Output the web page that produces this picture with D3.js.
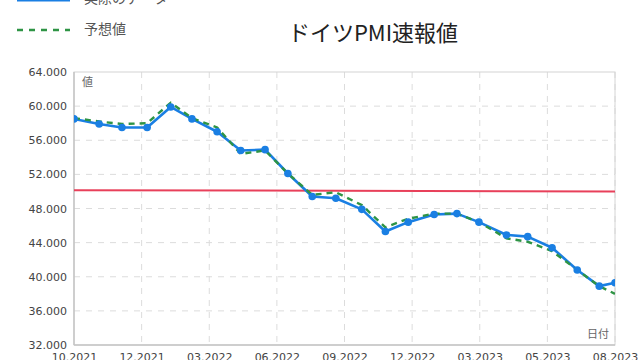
<!DOCTYPE html>
<html><head><meta charset="utf-8">
<script src="https://cdn.jsdelivr.net/npm/d3@7"></script>
<style>html,body{margin:0;padding:0;background:#fff;overflow:hidden}</style>
</head><body><svg id="c" width="640" height="360"></svg>
<script>
const dates = ["2021-10-01","2021-11-02","2021-12-01","2022-01-02","2022-02-01","2022-02-28","2022-04-01","2022-05-01","2022-06-01","2022-06-30","2022-07-31","2022-08-30","2022-10-02","2022-11-01","2022-11-30","2023-01-02","2023-01-31","2023-02-28","2023-04-04","2023-05-01","2023-06-01","2023-07-03","2023-07-31","2023-08-20"];
const actual = [58.5,57.9,57.5,57.5,59.9,58.5,57.0,54.8,54.9,52.1,49.4,49.2,47.9,45.3,46.4,47.3,47.4,46.4,44.9,44.7,43.4,40.8,38.9,39.3];
const forecast = [58.6,58.2,57.9,58.0,60.4,58.6,57.5,54.4,54.8,52.1,49.6,49.9,48.4,45.8,46.8,47.4,47.4,46.4,44.5,44.1,43.0,40.8,38.9,38.0];
const refLine = [50.15, 50.0];
const yTicks = [32,36,40,44,48,52,56,60,64];
const xTickDates = ["2021-10-01","2021-12-26","2022-03-22","2022-06-16","2022-09-10","2022-12-05","2023-03-01","2023-05-26","2023-08-20"];
const xTickLabels = ["10.2021","12.2021","03.2022","06.2022","09.2022","12.2022","03.2023","05.2023","08.2023"];
const legendLabels = ["実際のデータ","予想値"];
const title = "ドイツPMI速報値";

const parse = d3.timeParse("%Y-%m-%d");
const svg = d3.select("#c");
const L=74, R=615, T=72, B=345;
const x = d3.scaleTime().domain([parse(dates[0]), parse(dates[dates.length-1])]).range([L,R]);
const y = d3.scaleLinear().domain([32,64]).range([B,T]);
const numFont = "'DejaVu Sans', Verdana, sans-serif";
const jpFont = "'Noto Sans CJK JP', sans-serif";

// grid
const g = svg.append("g");
g.selectAll(".hg").data(yTicks.filter(v=>v>32 && v<64)).join("line")
  .attr("x1",L).attr("x2",R).attr("y1",d=>y(d)).attr("y2",d=>y(d))
  .attr("stroke","#dcdcdc").attr("stroke-width",1).attr("stroke-dasharray","6,6");
g.selectAll(".vg").data(xTickDates.slice(1)).join("line")
  .attr("x1",d=>x(parse(d))).attr("x2",d=>x(parse(d))).attr("y1",T).attr("y2",B)
  .attr("stroke","#dcdcdc").attr("stroke-width",1).attr("stroke-dasharray","6,6");

// frame
svg.append("rect").attr("x",L).attr("y",T).attr("width",R-L).attr("height",B-T)
  .attr("fill","none").attr("stroke","#d4d4d4").attr("stroke-width",1);
svg.append("line").attr("x1",L).attr("x2",L).attr("y1",T).attr("y2",B).attr("stroke","#c4c4c4").attr("stroke-width",1.5);
svg.append("line").attr("x1",L).attr("x2",R).attr("y1",B).attr("y2",B).attr("stroke","#c4c4c4").attr("stroke-width",1.5);

// y axis
const yAxis = d3.axisLeft(y).tickValues(yTicks).tickFormat(d3.format(".3f")).tickSize(0).tickPadding(7);
const ya = svg.append("g").attr("transform",`translate(${L},0)`).call(yAxis);
ya.select(".domain").remove();
ya.selectAll("text").attr("font-family",numFont).attr("font-size",11).attr("fill","#444");

// x axis
const xAxis = d3.axisBottom(x).tickValues(xTickDates.map(parse)).tickFormat((d,i)=>xTickLabels[i]).tickSize(0).tickPadding(8);
const xa = svg.append("g").attr("transform",`translate(0,${B})`).call(xAxis);
xa.select(".domain").remove();
xa.selectAll("text").attr("font-family",numFont).attr("font-size",11).attr("fill","#444");

// axis titles
svg.append("text").attr("x",82).attr("y",86).text("値").attr("font-family",jpFont).attr("font-size",11).attr("fill","#666");
svg.append("text").attr("x",609).attr("y",338).attr("text-anchor","end").text("日付").attr("font-family",jpFont).attr("font-size",11).attr("fill","#666");

// clip
svg.append("clipPath").attr("id","clip").append("rect").attr("x",L).attr("y",T).attr("width",R-L).attr("height",B-T);
const plot = svg.append("g").attr("clip-path","url(#clip)");

// reference line
plot.append("line").attr("x1",x(parse(dates[0]))).attr("x2",x(parse(dates[dates.length-1])))
  .attr("y1",y(refLine[0])).attr("y2",y(refLine[1])).attr("stroke","#e8405a").attr("stroke-width",2);

const line = d3.line().x((d,i)=>x(parse(dates[i]))).y(d=>y(d));
plot.append("path").datum(actual).attr("d",line).attr("fill","none").attr("stroke","#1a7fe3").attr("stroke-width",2.6).attr("stroke-linejoin","round");
plot.append("path").datum(forecast).attr("d",line).attr("fill","none").attr("stroke","#2e9445").attr("stroke-width",2.4).attr("stroke-dasharray","6,5");
plot.selectAll(".dot").data(actual).join("circle")
  .attr("cx",(d,i)=>x(parse(dates[i]))).attr("cy",d=>y(d)).attr("r",3.8).attr("fill","#1a7fe3");

// legend
svg.append("line").attr("x1",17).attr("x2",70).attr("y1",0).attr("y2",0).attr("stroke","#1a7fe3").attr("stroke-width",3);
svg.append("text").attr("x",84).attr("y",3).text(legendLabels[0]).attr("font-family",jpFont).attr("font-size",14).attr("fill","#555");
svg.append("line").attr("x1",17).attr("x2",70).attr("y1",30).attr("y2",30).attr("stroke","#2e9445").attr("stroke-width",2.5).attr("stroke-dasharray","6,6");
svg.append("text").attr("x",84).attr("y",34).text(legendLabels[1]).attr("font-family",jpFont).attr("font-size",14).attr("fill","#555");

// title
svg.append("text").attr("x",373).attr("y",41).attr("text-anchor","middle").text(title)
  .attr("font-family",jpFont).attr("font-size",22).attr("fill","#222");
</script></body></html>
